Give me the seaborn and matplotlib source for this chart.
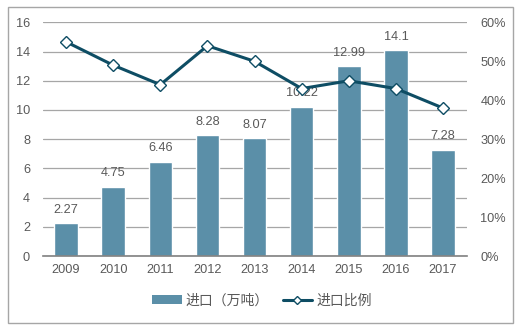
import matplotlib
matplotlib.use("Agg")
import matplotlib.pyplot as plt
import seaborn as sns
import numpy as np
import pandas as pd
from matplotlib.lines import Line2D
from matplotlib.patches import Patch, Rectangle
from matplotlib.ticker import FuncFormatter

years = ["2009", "2010", "2011", "2012", "2013", "2014", "2015", "2016", "2017"]
imports = [2.27, 4.75, 6.46, 8.28, 8.07, 10.22, 12.99, 14.1, 7.28]
ratio = [0.55, 0.49, 0.44, 0.54, 0.50, 0.43, 0.45, 0.43, 0.38]
bar_labels = ["2.27", "4.75", "6.46", "8.28", "8.07", "10.22", "12.99", "14.1", "7.28"]
legend_bar = "进口（万吨）"
legend_line = "进口比例"

sns.set_theme(style="white")
plt.rcParams['font.family'] = ['Liberation Sans', 'Noto Sans CJK SC', 'DejaVu Sans']

bar_color = "#5B8FA8"
line_color = "#0E4D64"
text_color = "#595959"
fs = 9.2

df = pd.DataFrame({"year": years, "imports": imports, "ratio": ratio})

fig = plt.figure(figsize=(5.19, 3.34), dpi=100)
ax = fig.add_axes([0.082, 0.2335, 0.817, 0.6995])

sns.barplot(data=df, x="year", y="imports", ax=ax, color=bar_color, width=0.5,
            saturation=1, zorder=2)
ax.set_ylim(0, 16)
ax.set_yticks(range(0, 17, 2))
ax.set_xlim(-0.5, len(years) - 0.5)
ax.set_xlabel("")
ax.set_ylabel("")
ax.grid(axis="y", color="#A6A6A6", linewidth=0.9, zorder=0)
ax.set_axisbelow(True)
for s in ["left", "right", "top"]:
    ax.spines[s].set_visible(False)
ax.spines["bottom"].set_color("#808080")
ax.spines["bottom"].set_linewidth(1.2)
ax.tick_params(axis="both", length=0, labelsize=fs, labelcolor=text_color)
ax.tick_params(axis="y", pad=9)
ax.tick_params(axis="x", pad=6)

for i, (v, lab) in enumerate(zip(imports, bar_labels)):
    ax.text(i, v + 0.5, lab, ha="center", va="bottom", fontsize=fs, color=text_color)

ax2 = ax.twinx()
sns.pointplot(data=df, x="year", y="ratio", ax=ax2, color=line_color,
              markers="D", linestyles="-", errorbar=None,
              markersize=6.5, linewidth=2.2,
              markerfacecolor="white", markeredgecolor=line_color,
              markeredgewidth=1.0)
ax2.set_ylim(0, 0.6)
ax2.set_yticks(np.arange(0, 0.61, 0.1))
ax2.yaxis.set_major_formatter(FuncFormatter(lambda v, p: f"{v*100:.0f}%"))
ax2.set_xlim(-0.5, len(years) - 0.5)
ax2.set_ylabel("")
ax2.set_xlabel("")
for s in ["left", "right", "top", "bottom"]:
    ax2.spines[s].set_visible(False)
ax2.tick_params(axis="y", length=0, labelsize=fs, labelcolor=text_color, pad=10)
ax2.grid(False)

handles = [Patch(facecolor=bar_color, edgecolor="none"),
           Line2D([0], [0], color=line_color, linewidth=2.2, marker="D",
                  markersize=4.5, markerfacecolor="white",
                  markeredgecolor=line_color)]
fig.legend(handles, [legend_bar, legend_line], loc="center",
           bbox_to_anchor=(0.505, 0.1), ncol=2, frameon=False,
           fontsize=10, labelcolor=text_color, handlelength=2.1,
           handleheight=0.6, columnspacing=1.0, handletextpad=0.3)

fig.patches.append(Rectangle((8 / 519, 1 - 323 / 334), 505 / 519, 316 / 334,
                             transform=fig.transFigure, fill=False,
                             edgecolor="#A6A6A6", linewidth=1.0))

fig.savefig("out.png", dpi=100)
